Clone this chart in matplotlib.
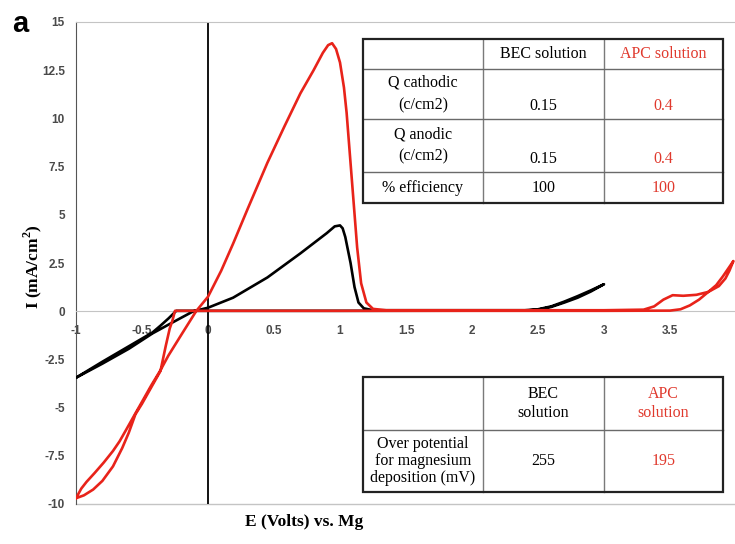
import matplotlib
matplotlib.use("Agg")
import matplotlib.pyplot as plt
from matplotlib.patches import Rectangle
from matplotlib.lines import Line2D

plt.rcParams['mathtext.fontset'] = 'custom'
plt.rcParams['mathtext.rm'] = 'Liberation Serif:bold'
plt.rcParams['mathtext.bf'] = 'Liberation Serif:bold'

# cyclic voltammograms, E (V vs Mg) / I (mA/cm2)
E_bec = [-1.0, -0.8, -0.6, -0.42, -0.3, -0.2, -0.11, 0.0, 0.19, 0.45, 0.70, 0.90, 0.96, 1.0,
         1.02, 1.04, 1.08, 1.11, 1.14, 1.18, 1.25, 2.0, 2.4, 2.5, 2.6, 2.7, 2.8, 2.9, 3.0,
         2.9, 2.8, 2.7, 2.6, 2.5, 2.4, 1.0, 0.0, -0.24,
         -0.3, -0.36, -0.42, -0.6, -0.8, -1.0]
I_bec = [-3.45, -2.72, -1.95, -1.15, -0.7, -0.33, 0.0, 0.18, 0.7, 1.75, 3.0, 4.05, 4.4, 4.45,
         4.3, 3.85, 2.5, 1.25, 0.45, 0.15, 0.05, 0.05, 0.05, 0.1, 0.25, 0.5, 0.78, 1.08, 1.4,
         1.02, 0.7, 0.45, 0.22, 0.08, 0.03, 0.02, 0.02, 0.02,
         -0.38, -0.75, -1.1, -1.82, -2.62, -3.45]

E_apc = [-1.0, -0.96, -0.92, -0.86, -0.79, -0.72, -0.67, -0.62, -0.55, -0.5, -0.43, -0.36,
         -0.3, -0.2, -0.09, 0.0, 0.1, 0.19, 0.3, 0.45, 0.58, 0.70, 0.8, 0.87, 0.91, 0.94,
         0.97, 1.0, 1.03, 1.05, 1.09, 1.13, 1.16, 1.2, 1.25, 1.35, 2.0, 3.0, 3.3, 3.38, 3.45,
         3.52, 3.6, 3.7, 3.79, 3.85, 3.9, 3.95, 3.98,
         3.95, 3.92, 3.87, 3.79, 3.72, 3.65, 3.58, 3.5, 3.0, 1.0, -0.25,
         -0.27, -0.29, -0.32, -0.36, -0.43, -0.5, -0.55, -0.6, -0.65, -0.72, -0.8, -0.87,
         -0.94, -1.0]
I_apc = [-9.7, -9.2, -8.85, -8.4, -7.85, -7.25, -6.75, -6.15, -5.3, -4.7, -3.85, -3.06,
         -2.3, -1.2, 0.0, 0.75, 2.1, 3.5, 5.3, 7.7, 9.6, 11.3, 12.5, 13.4, 13.8, 13.9,
         13.6, 12.9, 11.6, 10.3, 6.8, 3.3, 1.45, 0.45, 0.12, 0.05, 0.05, 0.05, 0.08, 0.25, 0.6,
         0.83, 0.8, 0.85, 1.0, 1.35, 1.8, 2.3, 2.6,
         2.1, 1.7, 1.3, 1.0, 0.6, 0.3, 0.1, 0.03, 0.02, 0.02, 0.02,
         -0.5, -0.9, -1.8, -3.1, -3.95, -4.8, -5.35, -6.3, -7.1, -8.05, -8.8, -9.25,
         -9.55, -9.7]

x_ticks = [-1, -0.5, 0, 0.5, 1, 1.5, 2, 2.5, 3, 3.5]
x_labels = ['-1', '-0.5', '0', '0.5', '1', '1.5', '2', '2.5', '3', '3.5']
y_ticks = [15, 12.5, 10, 7.5, 5, 2.5, 0, -2.5, -5, -7.5, -10]
y_labels = ['15', '12.5', '10', '7.5', '5', '2.5', '0', '-2.5', '-5', '-7.5', '-10']

# table contents
charge_header = ['', 'BEC solution', 'APC solution']
charge_rows = [['Q cathodic\n(c/cm2)', '0.15', '0.4'],
               ['Q anodic\n(c/cm2)', '0.15', '0.4'],
               ['% efficiency', '100', '100']]
over_header = ['', 'BEC\nsolution', 'APC\nsolution']
over_row = ['Over potential\nfor magnesium\ndeposition (mV)', '255', '195']

RED = '#e8231a'
RED_TXT = '#e0392d'
W, H = 735, 544

fig = plt.figure(figsize=(W / 100, H / 100), dpi=100)
fig.set_facecolor('white')
ax = fig.add_axes([76 / W, 1 - 504 / H, 660 / W, 482 / H])

ax.plot(E_bec, I_bec, color='black', lw=1.9, zorder=3)
ax.plot(E_apc, I_apc, color=RED, lw=1.9, zorder=4)

ax.set_xlim(-1, 4)
ax.set_ylim(-10, 15)

# axes lines: x axis crosses at I=0, black line at E=0
ax.spines['bottom'].set_position(('data', 0))
ax.spines['bottom'].set_color('#c4c4c4')
ax.spines['top'].set_color('#c4c4c4')
ax.spines['left'].set_color('#555555')
ax.spines['right'].set_visible(False)
ax.axhline(-10, color='#c4c4c4', lw=1.0, clip_on=False, zorder=1)
ax.axvline(0, color='black', lw=1.3, zorder=2)

tick_font = dict(family='Liberation Sans', size=8.5, weight='bold', color='#4a4a4a')
ax.set_xticks(x_ticks)
ax.set_xticklabels(x_labels, fontdict=tick_font)
ax.set_yticks(y_ticks)
ax.set_yticklabels(y_labels, fontdict=tick_font)
ax.tick_params(axis='x', length=0, pad=10)
ax.tick_params(axis='y', length=0, pad=8)

serif = 'Liberation Serif'
fig.text(304 / W, 1 - 522 / H, 'E (Volts) vs. Mg', ha='center', va='center',
         family=serif, weight='bold', size=12.5)
fig.text(33 / W, 1 - 267 / H, r'I (mA/cm$^{\mathbf{2}}$)', ha='center', va='center',
         rotation=90, family=serif, weight='bold', size=12.5)
fig.text(12 / W, 1 - 24 / H, 'a', ha='left', va='center', family='Liberation Sans',
         weight='bold', size=21)


def fx(px):
    return px / W


def fy(py):
    return 1 - py / H


def draw_table(col_x, row_y, cells, valign_bottom, spacing):
    # white box, thin inner grid, dark outer frame
    fig.add_artist(Rectangle((fx(col_x[0]), fy(row_y[-1])), fx(col_x[-1]) - fx(col_x[0]),
                             fy(row_y[0]) - fy(row_y[-1]), transform=fig.transFigure,
                             facecolor='white', edgecolor='none', zorder=5))
    for x in col_x[1:-1]:
        fig.add_artist(Line2D([fx(x), fx(x)], [fy(row_y[0]), fy(row_y[-1])],
                              transform=fig.transFigure, color='#7a7a7a', lw=1.0, zorder=6))
    for y in row_y[1:-1]:
        fig.add_artist(Line2D([fx(col_x[0]), fx(col_x[-1])], [fy(y), fy(y)],
                              transform=fig.transFigure, color='#6a6a6a', lw=1.0, zorder=6))
    fig.add_artist(Rectangle((fx(col_x[0]), fy(row_y[-1])), fx(col_x[-1]) - fx(col_x[0]),
                             fy(row_y[0]) - fy(row_y[-1]), transform=fig.transFigure,
                             facecolor='none', edgecolor='#222222', lw=1.6, zorder=7))
    for r, row in enumerate(cells):
        for c, txt in enumerate(row):
            if not txt:
                continue
            xc = (col_x[c] + col_x[c + 1]) / 2
            if c > 0 and valign_bottom[r]:
                yc, va = row_y[r + 1] - 5, 'bottom'
            else:
                yc, va = (row_y[r] + row_y[r + 1]) / 2, 'center'
            color = RED_TXT if c == 2 else 'black'
            fig.text(fx(xc), fy(yc), txt, ha='center', va=va, family=serif, size=11.5,
                     color=color, linespacing=spacing[r], zorder=8)


cols = [363, 483, 604, 723]
draw_table(cols, [39, 69, 119, 172, 203], [charge_header] + charge_rows,
           [False, True, True, False], [1.2, 1.55, 1.55, 1.2])
draw_table(cols, [377, 430, 492], [over_header, over_row], [False, False], [1.3, 1.12])

fig.savefig('out.png', dpi=100)
